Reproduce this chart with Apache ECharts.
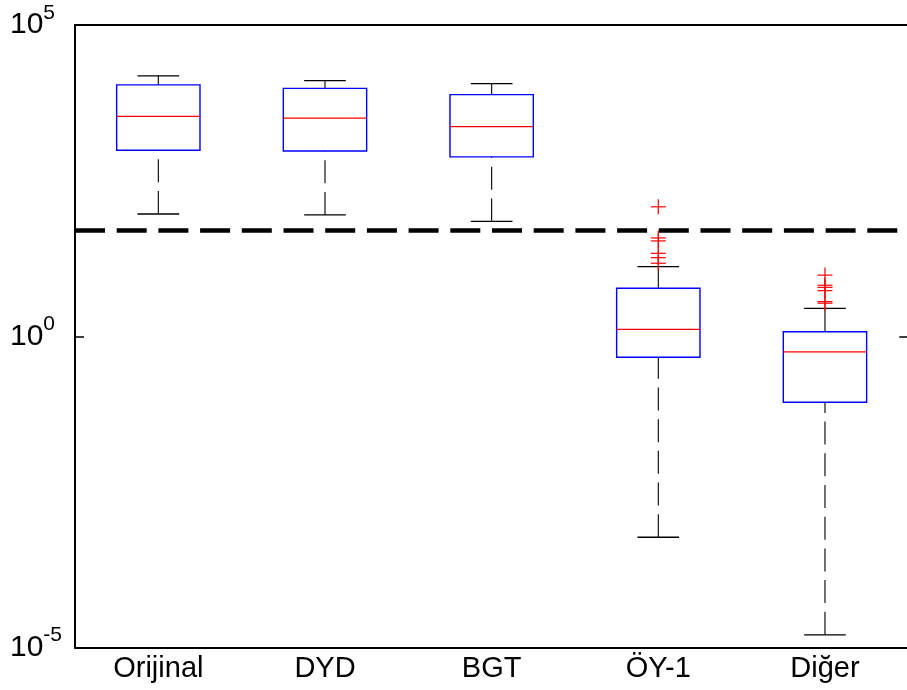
<!DOCTYPE html>
<html>
<head>
<meta charset="utf-8">
<script src="https://cdn.jsdelivr.net/npm/echarts@6/dist/echarts.min.js"></script>
<style>
  html, body { margin: 0; padding: 0; background: #ffffff; }
  #chart { width: 907px; height: 690px; }
</style>
</head>
<body>
<div id="chart"></div>
<script>
// Groups along the horizontal axis
const categories = ['Orijinal', 'DYD', 'BGT', 'ÖY-1', 'Diğer'];

// Five-number summaries per group (log-scaled values)
const lowerWhisker = [92, 89, 70, 5.9e-4, 1.6e-5];
const q1Values     = [970, 945, 760, 0.46, 0.087];
const medianValues = [3410, 3200, 2330, 1.29, 0.56];
const q3Values     = [10900, 9600, 7600, 5.9, 1.18];
const upperWhisker = [15200, 12800, 11400, 13.1, 2.8];

// Outliers: [group index, value]
const outlierGroups = [3, 3, 3, 3, 3, 3, 4, 4, 4, 4, 4, 4];
const outlierValues = [120, 38, 34, 21.5, 18.3, 14.9, 9.6, 6.6, 6.1, 5.4, 3.6, 3.4];

// Horizontal reference level
const thresholdValue = 50;

// Y-axis tick values
const yTickValues = [1e-5, 1, 1e5];

const FONT = "'Liberation Sans', Arial, Helvetica, sans-serif";

const boxData = categories.map((c, i) => [i, lowerWhisker[i], q1Values[i], medianValues[i], q3Values[i], upperWhisker[i]]);
const outlierData = outlierValues.map((v, i) => [outlierGroups[i], v]);

function renderBox(params, api) {
  const idx = api.value(0);
  const lo = api.value(1), q1 = api.value(2), med = api.value(3), q3 = api.value(4), hi = api.value(5);
  const cx = api.coord([idx, med])[0];
  const band = api.coord([1, med])[0] - api.coord([0, med])[0];
  const boxHalf = band * 0.25;
  const capHalf = band * 0.125;
  const yLo = api.coord([idx, lo])[1];
  const yQ1 = api.coord([idx, q1])[1];
  const yMed = api.coord([idx, med])[1];
  const yQ3 = api.coord([idx, q3])[1];
  const yHi = api.coord([idx, hi])[1];
  const whiskerStyle = { stroke: '#000000', lineWidth: 1.1, lineDash: [23, 8.7], fill: null };
  const capStyle = { stroke: '#000000', lineWidth: 1.3, fill: null };
  return {
    type: 'group',
    children: [
      // lower whisker, drawn from the cap toward the box
      { type: 'line', shape: { x1: cx, y1: yLo, x2: cx, y2: yQ1 }, style: whiskerStyle },
      // upper whisker
      { type: 'line', shape: { x1: cx, y1: yHi, x2: cx, y2: yQ3 }, style: whiskerStyle },
      { type: 'line', shape: { x1: cx - capHalf, y1: yLo, x2: cx + capHalf, y2: yLo }, style: capStyle },
      { type: 'line', shape: { x1: cx - capHalf, y1: yHi, x2: cx + capHalf, y2: yHi }, style: capStyle },
      { type: 'rect', shape: { x: cx - boxHalf, y: yQ3, width: boxHalf * 2, height: yQ1 - yQ3 },
        style: { stroke: '#0000ff', lineWidth: 1.4, fill: '#ffffff' } },
      { type: 'line', shape: { x1: cx - boxHalf, y1: yMed, x2: cx + boxHalf, y2: yMed },
        style: { stroke: '#ff0000', lineWidth: 1.3, fill: null } }
    ]
  };
}

function renderPlus(params, api) {
  const p = api.coord([api.value(0), api.value(1)]);
  const h = 7.5;
  const st = { stroke: '#ff0000', lineWidth: 1.2, fill: null };
  return {
    type: 'group',
    children: [
      { type: 'line', shape: { x1: p[0] - h, y1: p[1], x2: p[0] + h, y2: p[1] }, style: st },
      { type: 'line', shape: { x1: p[0], y1: p[1] - h, x2: p[0], y2: p[1] + h }, style: st }
    ]
  };
}

function expLabel(v) {
  const e = Math.round(Math.log10(v));
  if (!yTickValues.some(t => Math.abs(Math.log10(t) - e) < 1e-6)) return '';
  return '{b|10}{s|' + e + '}';
}

const yLabelRich = {
  b: { fontSize: 30, fontFamily: FONT, color: '#000000' },
  s: { fontSize: 21, fontFamily: FONT, color: '#000000', padding: [0, 0, 24, 0] }
};

const axisLineStyle = { color: '#000000', width: 2 };

const option = {
  animation: false,
  backgroundColor: '#ffffff',
  grid: {
    left: 75, top: 25, width: 833.3, height: 622.5,
    outerBoundsMode: 'none', containLabel: false,
    show: false
  },
  xAxis: [
    {
      type: 'category',
      data: categories,
      boundaryGap: true,
      position: 'bottom',
      axisLine: { show: true, lineStyle: axisLineStyle },
      axisTick: { show: false },
      splitLine: { show: false },
      axisLabel: { color: '#000000', fontSize: 29, fontFamily: FONT, margin: 7 }
    },
    {
      // top frame edge
      type: 'category',
      data: categories,
      position: 'top',
      axisLine: { show: true, lineStyle: axisLineStyle },
      axisTick: { show: false },
      axisLabel: { show: false },
      splitLine: { show: false }
    }
  ],
  yAxis: [
    {
      type: 'log', logBase: 10, min: 1e-5, max: 1e5, interval: 5, splitNumber: 2,
      position: 'left',
      axisLine: { show: true, lineStyle: axisLineStyle },
      axisTick: { show: true, inside: true, length: 9, lineStyle: { color: '#000000', width: 1.5 } },
      minorTick: { show: false },
      splitLine: { show: false },
      axisLabel: {
        formatter: expLabel, rich: yLabelRich, align: 'left', margin: 65,
        showMinLabel: true, showMaxLabel: true
      }
    },
    {
      type: 'log', logBase: 10, min: 1e-5, max: 1e5, interval: 5, splitNumber: 2,
      position: 'right',
      axisLine: { show: false },
      axisTick: { show: true, inside: true, length: 9, lineStyle: { color: '#000000', width: 1.5 } },
      splitLine: { show: false },
      axisLabel: { show: false }
    }
  ],
  series: [
    {
      type: 'custom',
      name: 'boxes',
      renderItem: renderBox,
      data: boxData,
      encode: { x: 0, y: [1, 2, 3, 4, 5] },
      z: 3,
      markLine: {
        silent: true,
        symbol: ['none', 'none'],
        label: { show: false },
        lineStyle: { color: '#000000', width: 4.5, type: [30, 11.7] },
        data: [{ yAxis: thresholdValue }]
      }
    },
    {
      type: 'custom',
      name: 'outliers',
      renderItem: renderPlus,
      data: outlierData,
      encode: { x: 0, y: 1 },
      z: 4
    }
  ]
};

const chart = echarts.init(document.getElementById('chart'), null, { renderer: 'canvas' });
chart.setOption(option);
</script>
</body>
</html>
